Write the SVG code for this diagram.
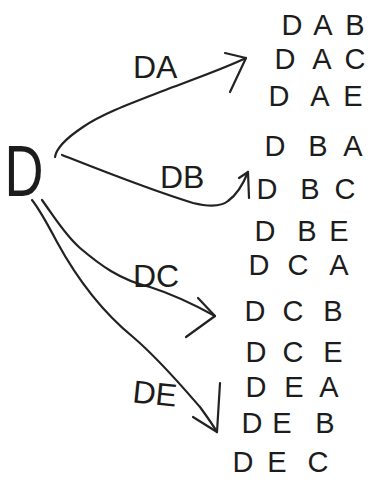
<svg xmlns="http://www.w3.org/2000/svg" width="382" height="496" viewBox="0 0 382 496">
<style>
.t{font-family:"Liberation Sans","DejaVu Sans",sans-serif;font-size:29px;fill:#1c1c1c;text-anchor:middle}
.lbl{font-family:"Liberation Sans","DejaVu Sans",sans-serif;font-size:32px;fill:#1c1c1c}
.c{fill:none;stroke:#222;stroke-width:2.2;stroke-linecap:round;stroke-linejoin:round}
</style>
<rect width="382" height="496" fill="#fff"/>
<g id="root"><text class="t" style="font-size:72px" transform="translate(24,196) scale(0.75,1)">D</text></g>
<g id="connectors">
<path class="c" d="M55,157 C56,150 62,141 83,127 C105,112 140,100 173,87 C200,77 225,68 246,58"/>
<path class="c" d="M225,53 L246,58 L230,92"/>
<path class="c" d="M62,155 C95,168 150,190 193,203 C210,207 222,206 228,201 C238,194 244,182 248,172"/>
<path class="c" d="M239,178 L248,172 L249,198"/>
<path class="c" d="M42,200 C55,218 65,235 80,248 C100,265 120,280 150,287 C175,295 195,305 215,316"/>
<path class="c" d="M198,298 L215,316 L186,337"/>
<path class="c" d="M32,200 C40,210 48,225 57,242 C75,275 100,310 133,337 C160,360 185,390 200,407 C208,418 213,425 217,432"/>
<path class="c" d="M193,417 L217,432 L220,383"/>
<text class="lbl" x="133" y="78">DA</text>
<text class="lbl" x="160" y="188">DB</text>
<text class="lbl" x="133" y="287">DC</text>
<text class="lbl" x="133" y="404" transform="rotate(6,150,390)">DE</text>
</g>
<g id="r1"><text class="t" x="292" y="35">D</text><text class="t" x="323" y="35">A</text><text class="t" x="355" y="35">B</text></g>
<g id="r2"><text class="t" x="285" y="69">D</text><text class="t" x="322" y="69">A</text><text class="t" x="355" y="69">C</text></g>
<g id="r3"><text class="t" x="279" y="106">D</text><text class="t" x="320" y="106">A</text><text class="t" x="353" y="106">E</text></g>
<g id="r4"><text class="t" x="275" y="156">D</text><text class="t" x="318" y="156">B</text><text class="t" x="353" y="156">A</text></g>
<g id="r5"><text class="t" x="267" y="199">D</text><text class="t" x="310" y="199">B</text><text class="t" x="345" y="199">C</text></g>
<g id="r6"><text class="t" x="265" y="241">D</text><text class="t" x="307" y="241">B</text><text class="t" x="339" y="241">E</text></g>
<g id="r7"><text class="t" x="259" y="275">D</text><text class="t" x="298" y="275">C</text><text class="t" x="339" y="275">A</text></g>
<g id="r8"><text class="t" x="255" y="321">D</text><text class="t" x="293" y="321">C</text><text class="t" x="333" y="321">B</text></g>
<g id="r9"><text class="t" x="256" y="362">D</text><text class="t" x="293" y="362">C</text><text class="t" x="333" y="362">E</text></g>
<g id="r10"><text class="t" x="256" y="397">D</text><text class="t" x="294" y="397">E</text><text class="t" x="329" y="397">A</text></g>
<g id="r11"><text class="t" x="252" y="433">D</text><text class="t" x="282" y="433">E</text><text class="t" x="325" y="433">B</text></g>
<g id="r12"><text class="t" x="243" y="472">D</text><text class="t" x="277" y="472">E</text><text class="t" x="318" y="472">C</text></g>
</svg>
